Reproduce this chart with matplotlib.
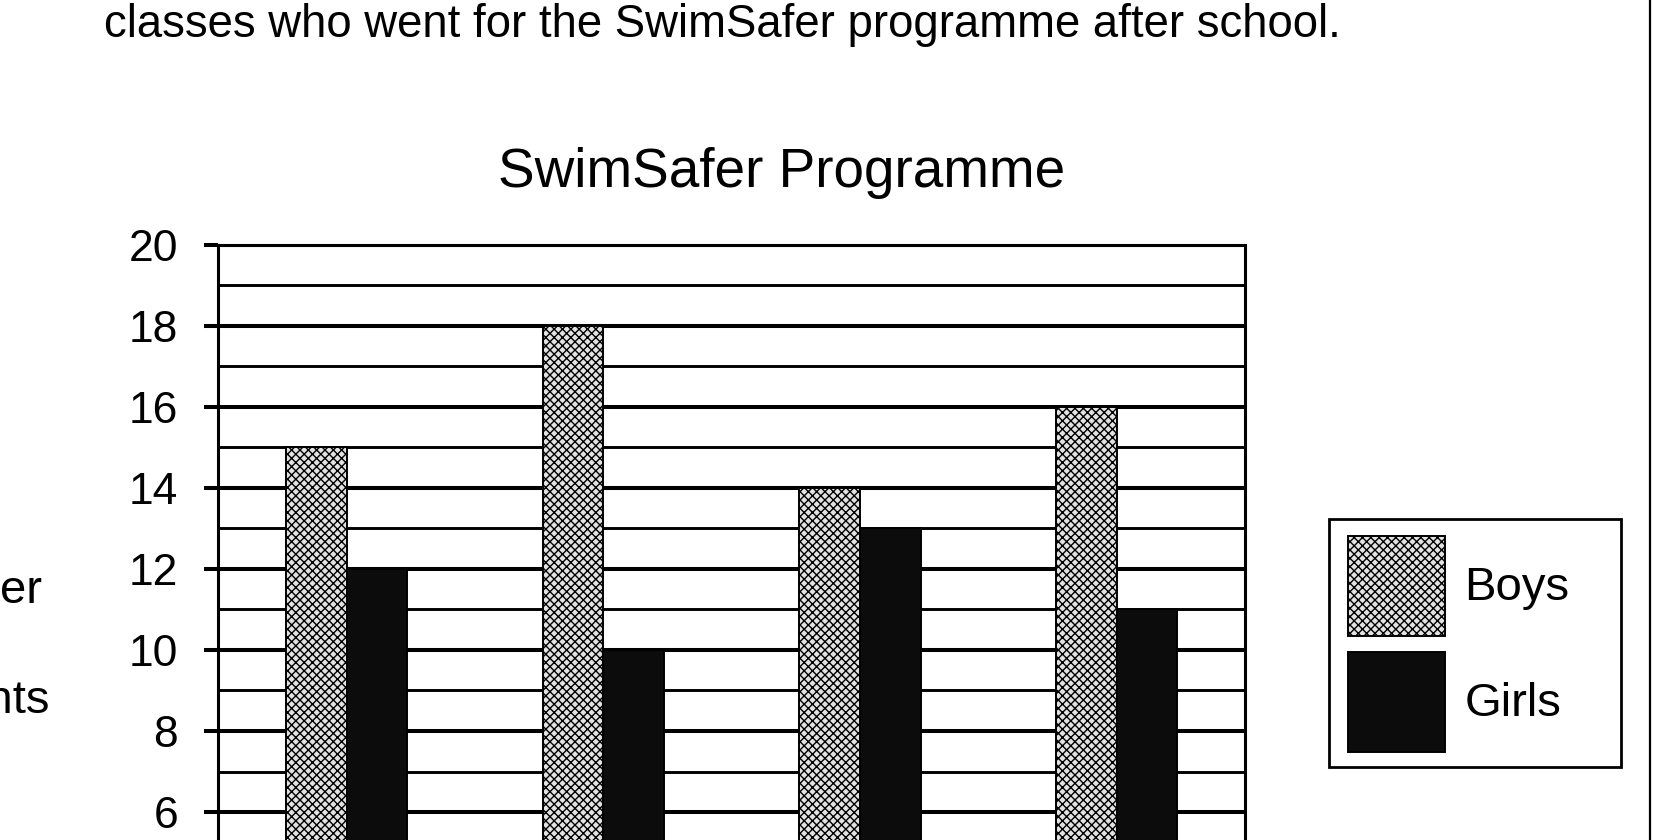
import matplotlib
matplotlib.use("Agg")
import matplotlib.pyplot as plt
from matplotlib.patches import Rectangle
import numpy as np

# data
classes = ["Class A", "Class B", "Class C", "Class D"]
boys = [15, 18, 14, 16]
girls = [12, 10, 13, 11]

plt.rcParams['font.family'] = ['Liberation Sans', 'DejaVu Sans']
plt.rcParams['hatch.color'] = '#3a3a3a'
plt.rcParams['hatch.linewidth'] = 1.0

fig = plt.figure(figsize=(16.8, 8.4), dpi=100)

# axes run off the bottom of the crop, as in the scan
ax = fig.add_axes([0.130, -0.2561, 0.611, 0.9647])

x = np.arange(len(classes))
w = 0.236
ax.bar(x - w / 2, boys, w, color='#e2e2e2', edgecolor='black', linewidth=1.4,
       hatch='xxxx', label='Boys', zorder=3)
ax.bar(x + w / 2, girls, w, color='#0c0c0c', edgecolor='black', linewidth=1.4,
       label='Girls', zorder=3)

ax.set_xlim(-0.5, 3.5)
ax.set_ylim(0, 20)
# only the ticks that are inside the cropped scan
ax.set_yticks(np.arange(6, 21, 2))
ax.set_yticks(np.arange(5, 21, 1), minor=True)
ax.grid(axis='y', which='major', color='black', linewidth=2.9, zorder=0)
ax.grid(axis='y', which='minor', color='black', linewidth=2.1, zorder=0)
ax.set_axisbelow(True)
ax.set_xticks([])
ax.tick_params(axis='y', which='major', length=10, width=2.9, labelsize=32, pad=19)
ax.tick_params(axis='y', which='minor', length=0)
for s in ax.spines.values():
    s.set_linewidth(2.2)

# title and question text
fig.text(0.4655, 0.794, "SwimSafer Programme", fontsize=39.5, ha='center', va='center')
fig.text(0.062, 0.970, "classes who went for the SwimSafer programme after school.",
         fontsize=32.8, ha='left', va='center')

# y label, mostly cut off at the left edge of the scan
fig.text(0.025, 0.297, "Number", fontsize=34, ha='right', va='center')
fig.text(0.0298, 0.165, "students", fontsize=34, ha='right', va='center')

# border line of the question box
fig.add_artist(plt.Line2D([0.982, 0.982], [0, 1], color='black', linewidth=1.6))

# legend: entries without frame, box drawn separately to match the scan
leg = fig.legend(loc='upper left', bbox_to_anchor=(0.8023, 0.3622), fontsize=34,
                 handlelength=2.05, handleheight=2.88, labelspacing=0.34,
                 borderpad=0, handletextpad=0.42, borderaxespad=0,
                 frameon=False)
fig.add_artist(Rectangle((0.7908, 0.0867), 0.965 - 0.7908, 0.3827 - 0.0867,
                         transform=fig.transFigure, fill=False,
                         edgecolor='black', linewidth=2))

fig.savefig("out.png", dpi=100)
